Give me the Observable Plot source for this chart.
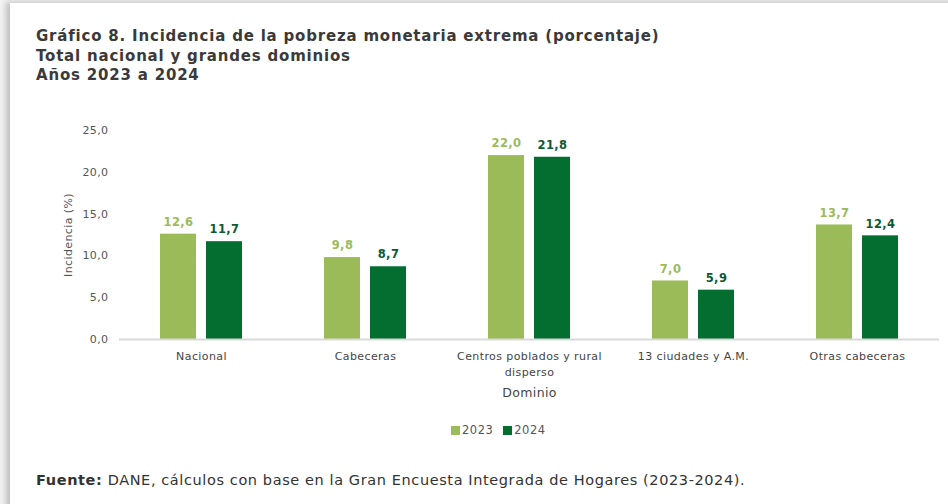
<!DOCTYPE html>
<html>
<head>
<meta charset="utf-8">
<script src="https://cdn.jsdelivr.net/npm/d3@7"></script>
<script src="https://cdn.jsdelivr.net/npm/@observablehq/plot@0.6"></script>
<style>
  html, body { margin: 0; padding: 0; background: #f3f3f3; width: 948px; height: 504px; overflow: hidden; }
  #card { position: absolute; left: 10px; top: 3px; width: 950px; height: 510px; background: #fff;
          box-shadow: -4px -1px 6px rgba(0,0,0,0.22); font-family: "DejaVu Sans", sans-serif; }
  #title { position: absolute; left: 26px; top: 24px; font-weight: bold; font-size: 15px; letter-spacing: 0.8px; line-height: 19.5px; color: #3a3a3a; }
  #chart { position: absolute; left: -10px; top: 107px; }
  #chart svg text { letter-spacing: 0.4px; }
  #legend { position: absolute; left: 441px; top: 420px; font-size: 11.5px; letter-spacing: 0.5px; color: #555; display: flex; align-items: center; }
  #legend .sw { display: inline-block; width: 9px; height: 9px; margin-right: 2px; }
  #legend .item { display: flex; align-items: center; margin-right: 10px; }
  #caption { position: absolute; left: 26px; top: 469px; font-size: 14.5px; letter-spacing: 0.6px; color: #333; }
</style>
</head>
<body>
<div id="card">
  <div id="title">Gráfico 8. Incidencia de la pobreza monetaria extrema (porcentaje)<br>Total nacional y grandes dominios<br>Años 2023 a 2024</div>
  <div id="chart"></div>
  <div id="legend"></div>
  <div id="caption"><b>Fuente:</b> DANE, cálculos con base en la Gran Encuesta Integrada de Hogares (2023-2024).</div>
</div>
<script>
const dominios = ["Nacional", "Cabeceras", "Centros poblados y rural disperso", "13 ciudades y A.M.", "Otras cabeceras"];
const years = ["2023", "2024"];
const values2023 = [12.6, 9.8, 22.0, 7.0, 13.7];
const values2024 = [11.7, 8.7, 21.8, 5.9, 12.4];
const yTicks = [0, 5, 10, 15, 20, 25];
const colors = ["#9bbb59", "#036e2f"];
const labelColors = ["#9bbb59", "#0b5a34"];

const data = [];
dominios.forEach((d, i) => {
  data.push({dominio: d, year: years[0], value: values2023[i]});
  data.push({dominio: d, year: years[1], value: values2024[i]});
});
const fmt = v => v.toFixed(1).replace(".", ",");
const wrapLabel = d => d === "Centros poblados y rural disperso" ? "Centros poblados y rural\ndisperso" : d;

const plot = Plot.plot({
  width: 948,
  height: 300,
  marginLeft: 118,
  marginRight: 8,
  marginTop: 20,
  marginBottom: 71,
  style: {fontFamily: "'DejaVu Sans', sans-serif", fontSize: "11px", color: "#555", background: "transparent"},
  fx: {domain: dominios, padding: 0, label: null},
  x: {domain: years, paddingInner: 0.213, paddingOuter: 0.855, axis: null},
  y: {domain: [0, 25], axis: null},
  color: {domain: years, range: colors},
  marks: [
    Plot.axisY({ticks: yTicks, tickSize: 0, tickPadding: 11, tickFormat: fmt, label: "Incidencia (%)", labelAnchor: "center", labelOffset: 55, labelArrow: false, fill: "#555", fontSize: 11}),
    Plot.axisFx({anchor: "bottom", tickSize: 0, tickPadding: 9, tickFormat: wrapLabel, label: null, fill: "#444", fontSize: 11, lineHeight: 1.45}),
    Plot.axisFx({anchor: "bottom", ticks: [], tickSize: 0, label: "Dominio", labelAnchor: "center", labelOffset: 57, labelArrow: false, fill: "#444", fontSize: 12.5}),
    Plot.barY(data, {fx: "dominio", x: "year", y: "value", fill: "year"}),
    Plot.ruleY([0], {stroke: "#d9d9d9", strokeWidth: 2}),
    Plot.text(data, {fx: "dominio", x: "year", y: "value", text: d => fmt(d.value), dy: -12, fontWeight: "bold", fontSize: 11.5,
      fill: d => d.year === years[0] ? labelColors[0] : labelColors[1]})
  ]
});
document.getElementById("chart").appendChild(plot);

const leg = document.getElementById("legend");
years.forEach((y, i) => {
  const item = document.createElement("span");
  item.className = "item";
  item.innerHTML = `<span class="sw" style="background:${colors[i]}"></span>${y}`;
  leg.appendChild(item);
});
</script>
</body>
</html>
